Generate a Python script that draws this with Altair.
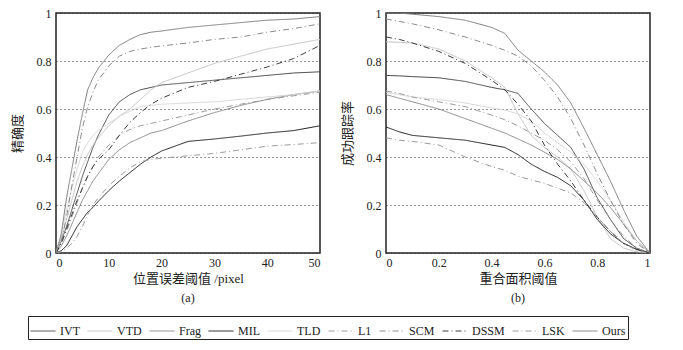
import altair as alt
import pandas as pd

METHODS = ["IVT", "VTD", "Frag", "MIL", "TLD", "L1", "SCM", "DSSM", "LSK", "Ours"]
COLORS = ["#4a4a4a", "#c4c4c4", "#8a8a8a", "#1e1e1e", "#d6d6d6",
          "#9c9c9c", "#8a8a8a", "#3c3c3c", "#9a9a9a", "#7c7c7c"]
SOLID = [1, 0]
DASHDOT = [6, 3, 1, 3]
DASHES = [SOLID, SOLID, SOLID, SOLID, SOLID, DASHDOT, DASHDOT, DASHDOT, DASHDOT, SOLID]

# ---- (a) precision vs. location error threshold ----
LX = [0, 1, 2, 3, 4, 5, 6, 7, 8, 10, 12, 14, 16, 18, 20, 25, 30, 35, 40, 45, 50]
P_IVT = [0, 0.05, 0.11, 0.18, 0.25, 0.32, 0.38, 0.44, 0.49, 0.575, 0.63, 0.66, 0.68, 0.69, 0.70, 0.71, 0.72, 0.73, 0.74, 0.75, 0.755]
P_VTD = [0, 0.06, 0.14, 0.22, 0.30, 0.36, 0.41, 0.45, 0.48, 0.53, 0.57, 0.60, 0.64, 0.68, 0.71, 0.75, 0.79, 0.82, 0.85, 0.87, 0.89]
P_FRAG = [0, 0.03, 0.07, 0.12, 0.17, 0.22, 0.26, 0.30, 0.33, 0.39, 0.43, 0.46, 0.48, 0.50, 0.51, 0.55, 0.585, 0.615, 0.64, 0.66, 0.675]
P_MIL = [0, 0.01, 0.03, 0.07, 0.11, 0.14, 0.17, 0.19, 0.215, 0.26, 0.30, 0.335, 0.37, 0.40, 0.425, 0.465, 0.475, 0.487, 0.50, 0.51, 0.53]
P_TLD = [0, 0.08, 0.18, 0.27, 0.35, 0.42, 0.46, 0.49, 0.51, 0.54, 0.57, 0.59, 0.61, 0.615, 0.62, 0.625, 0.63, 0.64, 0.65, 0.66, 0.675]
P_L1 = [0, 0.04, 0.09, 0.15, 0.21, 0.27, 0.32, 0.36, 0.40, 0.45, 0.49, 0.515, 0.53, 0.54, 0.55, 0.575, 0.60, 0.62, 0.64, 0.655, 0.67]
P_SCM = [0, 0.05, 0.15, 0.28, 0.40, 0.52, 0.61, 0.67, 0.72, 0.78, 0.82, 0.84, 0.85, 0.857, 0.863, 0.875, 0.89, 0.90, 0.92, 0.935, 0.955]
P_DSSM = [0, 0.04, 0.10, 0.16, 0.22, 0.27, 0.32, 0.36, 0.39, 0.43, 0.49, 0.545, 0.585, 0.62, 0.645, 0.69, 0.715, 0.745, 0.775, 0.81, 0.865]
P_LSK = [0, 0.005, 0.02, 0.04, 0.07, 0.11, 0.16, 0.20, 0.23, 0.28, 0.32, 0.355, 0.38, 0.39, 0.395, 0.405, 0.415, 0.43, 0.445, 0.452, 0.46]
P_OURS = [0, 0.08, 0.23, 0.35, 0.47, 0.58, 0.68, 0.73, 0.77, 0.825, 0.865, 0.89, 0.91, 0.92, 0.925, 0.94, 0.95, 0.96, 0.97, 0.975, 0.985]

# ---- (b) success rate vs. overlap threshold ----
RX = [0, 0.05, 0.1, 0.2, 0.3, 0.4, 0.45, 0.5, 0.55, 0.6, 0.65, 0.7, 0.75, 0.8, 0.85, 0.9, 0.95, 1]
S_IVT = [0.74, 0.738, 0.735, 0.73, 0.715, 0.69, 0.68, 0.665, 0.60, 0.54, 0.49, 0.44, 0.35, 0.23, 0.14, 0.06, 0.02, 0]
S_VTD = [0.88, 0.878, 0.875, 0.85, 0.80, 0.73, 0.69, 0.58, 0.49, 0.44, 0.40, 0.35, 0.26, 0.15, 0.06, 0.02, 0.005, 0]
S_FRAG = [0.66, 0.645, 0.63, 0.60, 0.56, 0.52, 0.50, 0.475, 0.45, 0.42, 0.39, 0.35, 0.30, 0.25, 0.19, 0.12, 0.05, 0]
S_MIL = [0.525, 0.505, 0.49, 0.48, 0.47, 0.45, 0.44, 0.41, 0.37, 0.34, 0.315, 0.28, 0.22, 0.14, 0.08, 0.04, 0.015, 0]
S_TLD = [0.67, 0.66, 0.65, 0.64, 0.625, 0.605, 0.595, 0.58, 0.55, 0.50, 0.46, 0.42, 0.37, 0.30, 0.22, 0.13, 0.05, 0]
S_L1 = [0.675, 0.665, 0.65, 0.63, 0.61, 0.575, 0.555, 0.53, 0.50, 0.47, 0.43, 0.38, 0.31, 0.22, 0.14, 0.07, 0.02, 0]
S_SCM = [0.975, 0.965, 0.955, 0.93, 0.90, 0.865, 0.845, 0.82, 0.78, 0.72, 0.65, 0.56, 0.45, 0.33, 0.22, 0.12, 0.04, 0]
S_DSSM = [0.90, 0.89, 0.875, 0.84, 0.79, 0.72, 0.68, 0.62, 0.55, 0.45, 0.37, 0.30, 0.22, 0.15, 0.09, 0.04, 0.015, 0]
S_LSK = [0.48, 0.47, 0.465, 0.45, 0.40, 0.36, 0.345, 0.32, 0.305, 0.29, 0.27, 0.25, 0.21, 0.15, 0.09, 0.04, 0.01, 0]
S_OURS = [1.0, 1.0, 0.995, 0.985, 0.97, 0.94, 0.915, 0.845, 0.80, 0.755, 0.70, 0.625, 0.52, 0.41, 0.30, 0.18, 0.07, 0]

PREC = [P_IVT, P_VTD, P_FRAG, P_MIL, P_TLD, P_L1, P_SCM, P_DSSM, P_LSK, P_OURS]
SUCC = [S_IVT, S_VTD, S_FRAG, S_MIL, S_TLD, S_L1, S_SCM, S_DSSM, S_LSK, S_OURS]

YTICKS = [0, 0.2, 0.4, 0.6, 0.8, 1]
LTICKS = [0, 10, 20, 30, 40, 50]
RTICKS = [0, 0.2, 0.4, 0.6, 0.8, 1]

FONT = "Liberation Serif, Noto Sans CJK SC"


def long_df(xs, series):
    rows = []
    for m, ys in zip(METHODS, series):
        for i, (x, y) in enumerate(zip(xs, ys)):
            rows.append({"method": m, "x": x, "y": y, "order": i})
    return pd.DataFrame(rows)


color_scale = alt.Scale(domain=METHODS, range=COLORS)
dash_scale = alt.Scale(domain=METHODS, range=DASHES)

legend = alt.Legend(
    title=None, orient="none", direction="horizontal", columns=10,
    legendX=-28, legendY=303, symbolType="stroke", symbolSize=625,
    symbolStrokeWidth=1, labelFont=FONT, labelFontSize=12, labelColor="#222",
    strokeColor="#222", padding=2, columnPadding=5, gridAlign="each",
    labelOffset=4, rowPadding=0,
)


def panel(df, xdomain, xticks, xtitle, ytitle, caption):
    return alt.Chart(df).mark_line(strokeWidth=1, clip=True).encode(
        x=alt.X("x:Q", scale=alt.Scale(domain=xdomain, nice=False, zero=False),
                axis=alt.Axis(values=xticks, title=xtitle, format=".1~f", grid=False,
                              ticks=False, domain=False, labelPadding=4, titlePadding=4)),
        y=alt.Y("y:Q", scale=alt.Scale(domain=[0, 1], nice=False),
                axis=alt.Axis(values=YTICKS, title=ytitle, format=".1~f", grid=True,
                              gridDash=[1, 3], gridColor="#333", gridOpacity=1,
                              ticks=False, domain=False, labelPadding=5, titlePadding=12)),
        color=alt.Color("method:N", scale=color_scale, legend=legend),
        strokeDash=alt.StrokeDash("method:N", scale=dash_scale, legend=legend),
        order="order:Q",
    ).properties(
        width=264, height=240,
        title=alt.TitleParams(caption, orient="bottom", anchor="middle", offset=8,
                              font=FONT, fontSize=12, fontWeight="normal", color="#222"),
    )


left = panel(long_df(LX, PREC), [0, 50], LTICKS, "位置误差阈值 /pixel", "精确度", "(a)")
right = panel(long_df(RX, SUCC), [0, 1], RTICKS, "重合面积阈值", "成功跟踪率", "(b)")

chart = alt.hconcat(left, right, spacing=66, bounds="flush").properties(
    padding={"left": 10, "top": 6, "right": 5, "bottom": 5},
    background="white",
).configure_view(
    stroke="#222", strokeWidth=1.5
).configure_axis(
    labelFont=FONT, labelFontSize=12, labelColor="#222",
    titleFont=FONT, titleFontSize=13, titleFontWeight="normal", titleColor="#222",
)

chart.save("out.html", embed_options={"renderer": "svg", "actions": False})
